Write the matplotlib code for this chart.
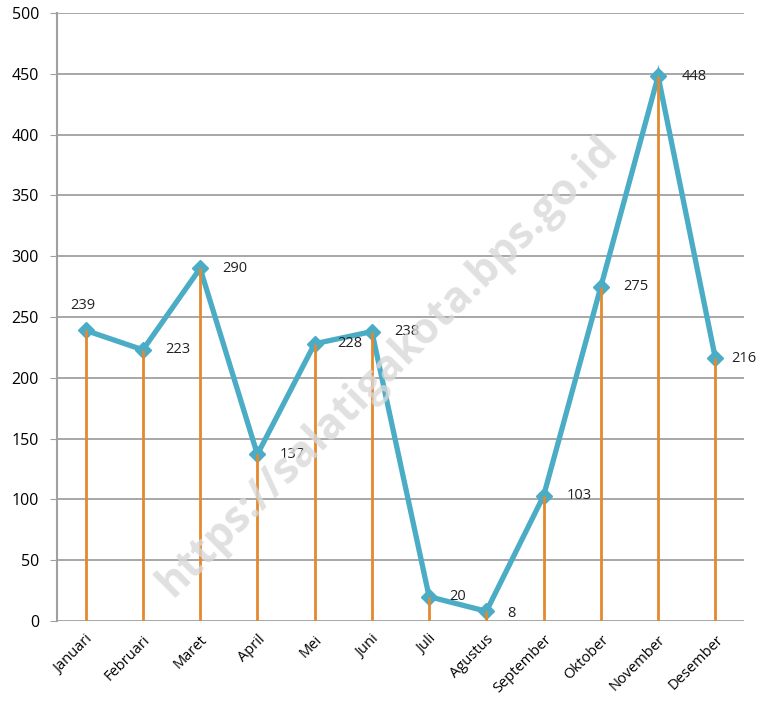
import matplotlib
matplotlib.use("Agg")
import matplotlib.pyplot as plt
import matplotlib.transforms as mtransforms
import numpy as np

bulan = ["Januari", "Februari", "Maret", "April", "Mei", "Juni", "Juli",
         "Agustus", "September", "Oktober", "November", "Desember"]
nilai = [239, 223, 290, 137, 228, 238, 20, 8, 103, 275, 448, 216]
yticks = [0, 50, 100, 150, 200, 250, 300, 350, 400, 450, 500]

# posisi label (dalam px relatif terhadap titik)
label_dx = [-3, 35, 35, 35, 35, 35, 29, 25, 36, 35, 36, 28]
label_dy = [25, 0, 0, 0, 0, 0, 0, -2, 0, 0, 0, 0]

plt.rcParams['font.family'] = ['Open Sans', 'DejaVu Sans']

fig = plt.figure(figsize=(7.65, 7.04), dpi=100)
ax = fig.add_axes([57/765, 1 - 621/704, 687/765, 608/704])

x = np.arange(len(bulan))

ax.plot(x, nilai, color='#4BACC6', lw=3.8, marker='D', ms=8,
        mec='#4BACC6', mfc='#4BACC6', zorder=3, solid_joinstyle='miter')
ax.vlines(x, 0, nilai, color='#E3892F', lw=2, zorder=4)

for xi, v, dx, dy in zip(x, nilai, label_dx, label_dy):
    ax.annotate(str(v), (xi, v), xytext=(dx * 0.72, dy * 0.72),
                textcoords='offset points', ha='center', va='center',
                fontsize=10.5, color='#222222', zorder=5)

ax.set_xlim(-0.5, 11.5)
ax.set_ylim(0, 500)
ax.set_yticks(yticks)
ax.set_xticks(x)
ax.set_xticklabels(bulan, rotation=45, ha='right', rotation_mode='anchor',
                   fontsize=10.5)
geser = mtransforms.ScaledTranslation(-8/100, 0, fig.dpi_scale_trans)
for lbl in ax.get_xticklabels():
    lbl.set_transform(lbl.get_transform() + geser)
ax.tick_params(axis='y', length=5, color='#a0a0a0', labelsize=11.5, pad=8)
ax.tick_params(axis='x', length=0, pad=8)
ax.grid(axis='y', color='#a0a0a0', lw=1.3)
ax.set_axisbelow(True)
for s in ['top', 'right', 'bottom']:
    ax.spines[s].set_visible(False)
ax.spines['left'].set_color('#a0a0a0')
ax.spines['left'].set_linewidth(1.5)

fig.text(388, 704 - 366, "https://salatigakota.bps.go.id",
         transform=None, rotation=45, ha='center', va='center',
         fontsize=31, fontweight='bold', color='#d9d9d9', alpha=0.8,
         zorder=10)

fig.savefig("out.png", dpi=100)
